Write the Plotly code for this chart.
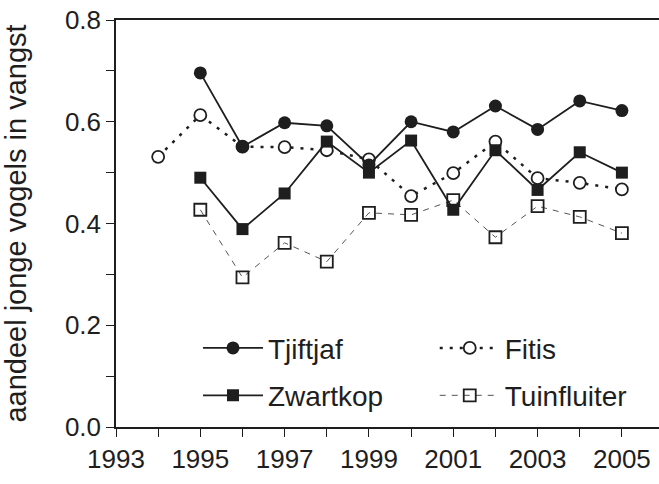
import plotly.graph_objects as go

years = list(range(1994, 2006))
years95 = list(range(1995, 2006))

tjiftjaf = [0.696, 0.551, 0.598, 0.592, 0.515, 0.600, 0.580, 0.631, 0.585, 0.641, 0.622]
fitis = [0.531, 0.613, 0.551, 0.550, 0.544, 0.526, 0.454, 0.499, 0.561, 0.489, 0.480, 0.467]
zwartkop = [0.490, 0.389, 0.459, 0.561, 0.500, 0.563, 0.427, 0.544, 0.466, 0.540, 0.500]
tuinfluiter = [0.427, 0.294, 0.362, 0.325, 0.421, 0.417, 0.446, 0.373, 0.434, 0.413, 0.381]

x_tickvals = list(range(1993, 2007))
x_ticktext = [str(y) if y % 2 == 1 else "" for y in x_tickvals]
y_tickvals = [0.0, 0.1, 0.2, 0.3, 0.4, 0.5, 0.6, 0.7, 0.8]
y_ticktext = ["0.0", "", "0.2", "", "0.4", "", "0.6", "", "0.8"]

FONT = "Liberation Sans, Arial, sans-serif"
INK = "#1e1e1e"

fig = go.Figure()

fig.add_trace(go.Scatter(
    x=years95, y=tuinfluiter, name="Tuinfluiter", mode="lines+markers",
    line=dict(color="#555555", width=1, dash="6px,6px"),
    marker=dict(symbol="square-open", size=12, color=INK, line=dict(width=1.8, color=INK)),
    legend="legend2", legendgroup="d", legendrank=2,
))
fig.add_trace(go.Scatter(
    x=years, y=fitis, name="Fitis", mode="lines+markers",
    line=dict(color=INK, width=2.5, dash="3px,7px"),
    marker=dict(symbol="circle", size=12, color="white", line=dict(width=1.8, color=INK)),
    legend="legend2", legendgroup="c", legendrank=1,
))
fig.add_trace(go.Scatter(
    x=years95, y=zwartkop, name="Zwartkop", mode="lines+markers",
    line=dict(color=INK, width=1.8),
    marker=dict(symbol="square", size=12, color=INK),
    legend="legend", legendgroup="b", legendrank=2,
))
fig.add_trace(go.Scatter(
    x=years95, y=tjiftjaf, name="Tjiftjaf", mode="lines+markers",
    line=dict(color=INK, width=1.8),
    marker=dict(symbol="circle", size=13, color=INK),
    legend="legend", legendgroup="a", legendrank=1,
))

legend_common = dict(
    font=dict(family=FONT, size=28, color=INK),
    bgcolor="rgba(0,0,0,0)",
    traceorder="grouped",
    tracegroupgap=8,
    xanchor="left", yanchor="top",
    itemwidth=60,
)

fig.update_layout(
    width=659, height=484,
    margin=dict(l=116, r=0, t=20, b=57),
    paper_bgcolor="white", plot_bgcolor="white",
    font=dict(family=FONT, size=26, color=INK),
    showlegend=True,
    legend=dict(x=0.151, y=0.255, **legend_common),
    legend2=dict(x=0.587, y=0.255, **legend_common),
    xaxis=dict(
        range=[1993, 2005.88], tickvals=x_tickvals, ticktext=x_ticktext,
        ticks="outside", ticklen=8, tickwidth=1.2, tickcolor=INK,
        showline=True, linecolor=INK, linewidth=1.5, mirror=True,
        showgrid=False, zeroline=False, automargin=False,
        ticklabeloverflow="allow",
        tickfont=dict(size=26, family=FONT, color=INK),
    ),
    yaxis=dict(
        range=[0, 0.8], tickvals=y_tickvals, ticktext=y_ticktext,
        ticks="outside", ticklen=8, tickwidth=1.2, tickcolor=INK,
        showline=True, linecolor=INK, linewidth=1.5,
        showgrid=False, zeroline=False, automargin=False,
        ticklabeloverflow="allow",
        tickfont=dict(size=26, family=FONT, color=INK),
        title=dict(text="aandeel jonge vogels in vangst", font=dict(size=29, family=FONT, color=INK), standoff=30),
    ),
)

fig.write_html("out.html", config={"displayModeBar": False},
               post_script="document.body.style.margin='0';")
